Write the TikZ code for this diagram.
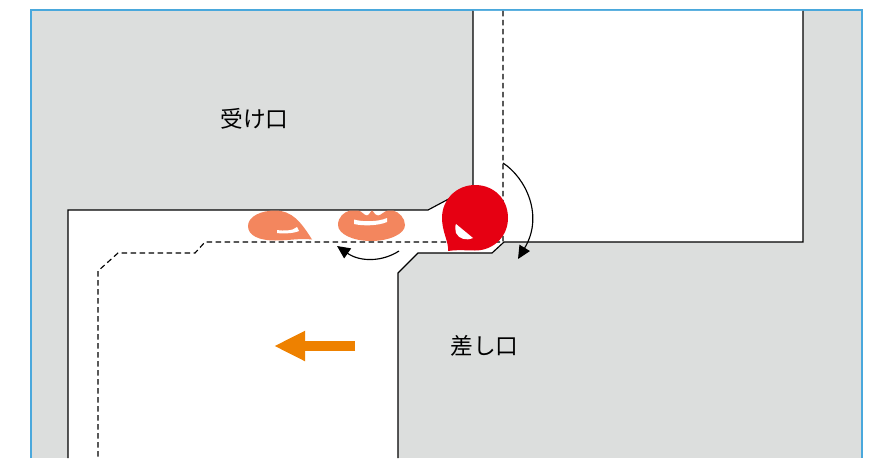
\documentclass[tikz,border=0pt]{standalone}
\usepackage{fontspec}
\newfontfamily\cjk{Noto Sans CJK JP}
\usetikzlibrary{arrows.meta}
\definecolor{wallgray}{HTML}{DCDEDD}
\definecolor{frameblue}{HTML}{4AA8DC}
\definecolor{ballred}{HTML}{E60012}
\definecolor{ballsalmon}{HTML}{F3865E}
\definecolor{arroworange}{HTML}{EE8100}
\tikzset{
  outline/.style={draw=black,line width=1.15pt},
  path line/.style={draw=black,line width=1.15pt,dash pattern=on 5.5pt off 3.5pt},
  turn/.style={draw=black,line width=1.15pt,-{Triangle[length=13pt,width=12pt]}},
  label text/.style={font=\cjk\fontsize{22.7pt}{25pt}\selectfont,text=black,inner sep=0pt},
  glint/.style={fill=white,draw=none}
}
\begin{document}
\begin{tikzpicture}[x=1pt,y=-1pt]
\useasboundingbox (0,0) rectangle (877,458);
% frame
\fill[white] (0,0) rectangle (877,458);
\fill[wallgray] (31,10) rectangle (862,458);
\draw[frameblue,line width=1.6pt] (31,458) -- (31,10) -- (862,10) -- (862,458);
% white channels
\fill[white] (473,10.8) -- (803,10.8) -- (803,242) -- (504,242) -- (492,253) -- (418,253) -- (398,273) -- (398,458) -- (68,458) -- (68,210) -- (428,210) -- (473,186) -- cycle;
% wall outlines
\draw[outline] (473,10.8) -- (473,186) -- (428,210) -- (68,210) -- (68,458);
\draw[outline] (803,10.8) -- (803,242) -- (504,242) -- (492,253) -- (418,253) -- (398,273) -- (398,458);
% dashed route
\coordinate (r0) at (503,10.8);
\coordinate (r1) at (503,242);
\coordinate (r2) at (205,242);
\coordinate (r3) at (195,253);
\coordinate (r4) at (118,253);
\coordinate (r5) at (98,271);
\coordinate (r6) at (98,458);
\draw[path line] (r0) -- (r1) -- (r2) -- (r3) -- (r4) -- (r5) -- (r6);
% salmon blobs
\fill[ballsalmon] (248,226) .. controls (248,216) and (262,210.5) .. (275,210.5)
  .. controls (292,210.5) and (301,222) .. (312,239.5)
  .. controls (300,238) and (290,240.5) .. (275,240.5)
  .. controls (260,240.5) and (248,236) .. (248,226) -- cycle;
\fill[glint] (277,230) .. controls (283,231) and (293,231) .. (297,227) -- (299,231)
  .. controls (294,233.5) and (283,233.8) .. (277,233) -- cycle;
\fill[ballsalmon] (338,225) .. controls (338,217) and (344,212) .. (350,210.5)
  -- (358,210.5) .. controls (362,211) and (364,215.5) .. (367,215.5)
  .. controls (369,215.5) and (371,210.5) .. (372,210.5)
  .. controls (373,210.5) and (375,215.5) .. (378,215.5)
  .. controls (381,215.5) and (384,211) .. (388,210.5)
  -- (393,210.5) .. controls (399,212) and (405,218) .. (405,225)
  .. controls (405,234) and (389,241) .. (371,241)
  .. controls (353,241) and (338,234) .. (338,225) -- cycle;
\fill[glint] (354,219.5) .. controls (362,222) and (378,222) .. (387,218) -- (387,222)
  .. controls (378,226) and (362,226) .. (354,224) -- cycle;
% turn arrows
\coordinate (a0) at (503,163);
\coordinate (a1) at (518,259);
\coordinate (b0) at (399,251);
\coordinate (b1) at (337,246);
\draw[turn] (a0) .. controls (526,178) and (544,216) .. (a1);
\draw[turn] (b0) .. controls (382,262) and (360,262) .. (b1);
% red ball
\fill[ballred] (448,251) .. controls (449,242) and (442,232) .. (442,218)
  .. controls (442,199) and (457,185) .. (475,185)
  .. controls (494,185) and (508,199) .. (508,218)
  .. controls (508,236) and (494,250.5) .. (475,250.5)
  .. controls (466,250.5) and (458,249.5) .. (448,251) -- cycle;
\fill[glint] (456,224) -- (473,238)
  .. controls (466,241) and (459,239) .. (456,233) .. controls (455,230) and (455,226) .. (456,224) -- cycle;
% orange arrow
\coordinate (o0) at (355,346);
\coordinate (o1) at (274,346);
\draw[arroworange,line width=10pt,-{Triangle[length=31pt,width=28pt]}] (o0) -- (o1);
% labels
\node[label text] (t1) at (254.5,118.5) {受け口};
\node[label text] (t2) at (484.5,346) {差し口};
\end{tikzpicture}
\end{document}
